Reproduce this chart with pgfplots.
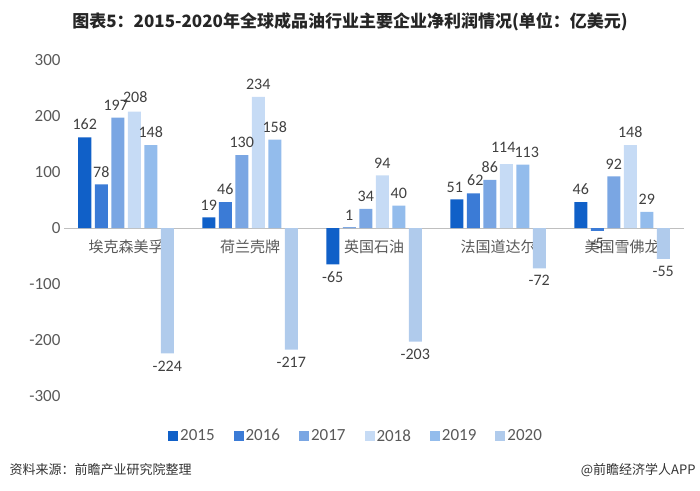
\documentclass[border=0pt]{standalone}
\usepackage{pgfplots}
\pgfplotsset{compat=1.18}
\usepackage{fontspec}
\setmainfont{Carlito}
\newfontfamily\cjk{Noto Sans CJK SC}
\definecolor{c15}{HTML}{1060C8}
\definecolor{c16}{HTML}{3B7BD6}
\definecolor{c17}{HTML}{7AA6E3}
\definecolor{c18}{HTML}{C6DBF5}
\definecolor{c19}{HTML}{93BCEC}
\definecolor{c20}{HTML}{B0CBEC}
\definecolor{tick}{HTML}{595959}
\definecolor{lbl}{HTML}{404040}

% values per company, 2015..2020 (亿美元)
\pgfplotstableread{
x y15 y16 y17 y18 y19 y20
0 162 78 197 208 148 -224
1 19 46 130 234 158 -217
2 -65 1 34 94 40 -203
3 51 62 86 114 113 -72
4 46 -5 92 148 29 -55
}\profit

\begin{document}
\begin{tikzpicture}
\useasboundingbox (0,0) rectangle (700bp,491bp);
\begin{axis}[
  at={(64bp,95bp)}, anchor=south west,
  scale only axis, width=620bp, height=336bp,
  ybar=3.5bp, bar width=13bp,
  xmin=-0.5, xmax=4.5, ymin=-300, ymax=300,
  enlargelimits=false,
  ytick={-300,-200,...,300},
  xtick={0,...,4},
  xticklabels={埃克森美孚,荷兰壳牌,英国石油,法国道达尔,美国雪佛龙},
  axis x line=middle, axis y line=left,
  x axis line style={draw=black!25, -},
  y axis line style={draw=none},
  major tick length=0pt,
  x tick label style={font=\cjk\fontsize{15bp}{18bp}\selectfont, text=tick, yshift=-8bp},
  y tick label style={font=\fontsize{17bp}{20bp}\selectfont, text=tick},
  /pgf/number format/assume math mode=true,
  nodes near coords,
  every node near coord/.append style={font=\fontsize{16bp}{19bp}\selectfont, text=lbl, inner ysep=7bp, inner xsep=0pt},
  legend style={at={(0.471,-0.119)}, anchor=center, draw=none, fill=none,
    legend columns=6, font=\fontsize{17bp}{20bp}\selectfont, text=tick,
    /tikz/every even column/.append style={column sep=17bp}},
  legend image code/.code={\fill[#1] (0bp,-5bp) rectangle (10bp,5bp);},
]
\addplot[fill=c15, draw=none,
  coordinate style/.condition={\coordindex==3}{xshift=-2bp}]
  table[x=x, y=y15] {\profit};
\addplot[fill=c16, draw=none,
  coordinate style/.condition={\coordindex==3}{xshift=2bp}]
  table[x=x, y=y16] {\profit};
\addplot[fill=c17, draw=none,
  coordinate style/.condition={\coordindex==0}{xshift=-2bp}]
  table[x=x, y=y17] {\profit};
\addplot[fill=c18, draw=none,
  coordinate style/.condition={\coordindex==3}{xshift=-3bp, yshift=4bp},
  coordinate style/.condition={\coordindex==0}{xshift=1bp, yshift=2bp}]
  table[x=x, y=y18] {\profit};
\addplot[fill=c19, draw=none,
  coordinate style/.condition={\coordindex==3}{xshift=4bp}]
  table[x=x, y=y19] {\profit};
\addplot[fill=c20, draw=none] table[x=x, y=y20] {\profit};
\legend{2015,2016,2017,2018,2019,2020}
\end{axis}
\node[font=\cjk\bfseries\fontsize{17bp}{20bp}\selectfont, text=black!85] at (350bp,469bp) {图表5：2015-2020年全球成品油行业主要企业净利润情况(单位：亿美元)};
\node[anchor=west, font=\cjk\fontsize{13bp}{16bp}\selectfont, text=black!80] at (6bp,21bp) {资料来源：前瞻产业研究院整理};
\node[anchor=east, font=\cjk\fontsize{13bp}{16bp}\selectfont, text=black!80] at (699bp,21bp) {@前瞻经济学人APP};
\end{tikzpicture}
\end{document}
